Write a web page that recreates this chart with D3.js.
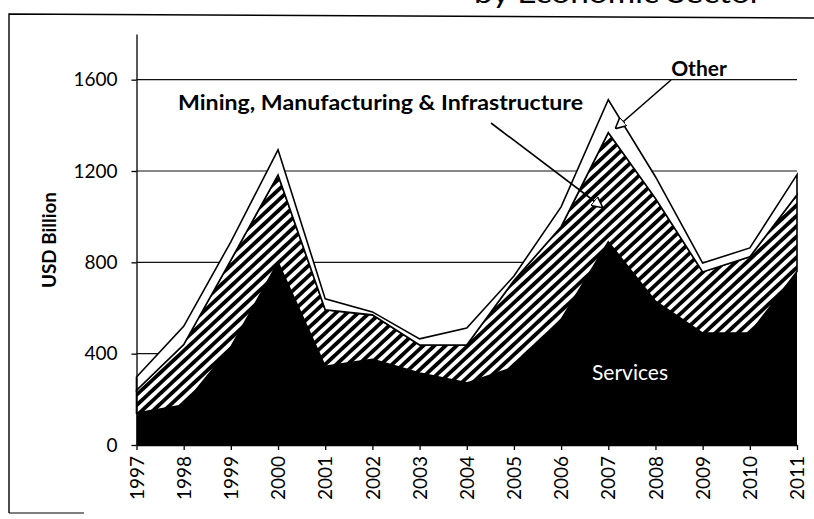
<!DOCTYPE html>
<html>
<head>
<meta charset="utf-8">
<script src="https://cdn.jsdelivr.net/npm/d3@7"></script>
<style>
  html, body { margin: 0; padding: 0; background: #fff; }
  svg { display: block; }
  text { font-family: Lato, "Open Sans", sans-serif; fill: #000; }
</style>
</head>
<body>
<svg id="chart" width="814" height="519"></svg>
<script>
// Annual values by economic sector, USD billion
const years = [1997, 1998, 1999, 2000, 2001, 2002, 2003, 2004, 2005, 2006, 2007, 2008, 2009, 2010, 2011];
const services = [140, 175, 430, 800, 345, 375, 315, 272, 340, 550, 890, 630, 490, 490, 760];
const mining = [100, 265, 380, 383, 247, 195, 123, 166, 380, 406, 478, 450, 268, 334, 336];
const other = [58, 80, 80, 110, 48, 13, 27, 74, 20, 87, 144, 95, 39, 39, 88];
const yTicks = [0, 400, 800, 1200, 1600];

const svg = d3.select("#chart");

// Diagonal stripe fill for the middle band
const defs = svg.append("defs");
const hatch = defs.append("pattern")
  .attr("id", "hatch")
  .attr("patternUnits", "userSpaceOnUse")
  .attr("width", 7.6)
  .attr("height", 10)
  .attr("patternTransform", "rotate(47)");
hatch.append("rect").attr("width", 7.6).attr("height", 10).attr("fill", "#fff");
hatch.append("rect").attr("width", 3.8).attr("height", 10).attr("fill", "#000");

// Page frame and the heading above it
svg.append("path")
  .attr("d", "M9,513 L9,14 L814,18")
  .attr("fill", "none").attr("stroke", "#000").attr("stroke-width", 1.4);
svg.append("path")
  .attr("d", "M9,513 L84,513")
  .attr("fill", "none").attr("stroke", "#000").attr("stroke-width", 1.2);
svg.append("text")
  .attr("x", 474).attr("y", 3)
  .attr("textLength", 288).attr("lengthAdjust", "spacingAndGlyphs")
  .style("font-size", "26px")
  .text("by Economic Sector");

const x = d3.scaleLinear().domain([1997, 2011]).range([136.5, 797]);
const y = d3.scaleLinear().domain([0, 1800]).range([445, 34]);

// Horizontal gridlines
svg.append("g")
  .selectAll("line")
  .data(yTicks.filter(d => d > 0))
  .join("line")
  .attr("x1", x(1997)).attr("x2", x(2011))
  .attr("y1", d => y(d)).attr("y2", d => y(d))
  .attr("stroke", "#111").attr("stroke-width", 1.1);

// Stacked series
const table = years.map((yr, i) => ({ year: yr, services: services[i], mining: mining[i], other: other[i] }));
const stack = d3.stack().keys(["services", "mining", "other"]);
const layers = stack(table);

const area = d3.area()
  .x(d => x(d.data.year))
  .y0(d => y(d[0]))
  .y1(d => y(d[1]));

const fills = { services: "#000", mining: "url(#hatch)", other: "#fff" };

svg.append("g")
  .selectAll("path")
  .data(layers)
  .join("path")
  .attr("d", area)
  .attr("fill", d => fills[d.key])
  .attr("stroke", "#000")
  .attr("stroke-width", d => d.key === "services" ? 0 : 1.6)
  .attr("stroke-linejoin", "miter");

// Axes
const yAxis = d3.axisLeft(y).tickValues(yTicks).tickFormat(d3.format("d"))
  .tickSize(5).tickSizeOuter(0).tickPadding(14);
const gy = svg.append("g").attr("transform", `translate(${x(1997)},0)`).call(yAxis);
gy.selectAll("text").style("font-size", "19px");

const xAxis = d3.axisBottom(x).tickValues(years).tickFormat(d3.format("d")).tickSize(5).tickSizeOuter(0);
const gx = svg.append("g").attr("transform", `translate(0,${y(0)})`).call(xAxis);
gx.selectAll("text")
  .style("font-size", "19px")
  .attr("text-anchor", "end")
  .attr("transform", "rotate(-90)")
  .attr("x", -11)
  .attr("y", 0)
  .attr("dy", "0.35em");

[gx, gy].forEach(g => {
  g.selectAll("path, line").attr("stroke", "#000").attr("stroke-width", 1.3);
});

// Axis title
svg.append("text")
  .attr("transform", "translate(56,240) rotate(-90)")
  .attr("text-anchor", "middle")
  .attr("textLength", 96).attr("lengthAdjust", "spacingAndGlyphs")
  .style("font-size", "18px")
  .style("font-weight", "bold")
  .text("USD Billion");

// Series labels and pointers
const marker = defs.append("marker")
  .attr("id", "arrow")
  .attr("viewBox", "0 0 10 10")
  .attr("refX", 9).attr("refY", 5)
  .attr("markerWidth", 7).attr("markerHeight", 7)
  .attr("markerUnits", "strokeWidth")
  .attr("orient", "auto");
marker.append("path")
  .attr("d", "M0,0 L10,5 L0,10 Z")
  .attr("fill", "#fff").attr("stroke", "#000").attr("stroke-width", 1.4);

svg.append("text")
  .attr("x", 178).attr("y", 110)
  .attr("textLength", 405).attr("lengthAdjust", "spacingAndGlyphs")
  .style("font-size", "21px").style("font-weight", "bold")
  .text("Mining, Manufacturing & Infrastructure");

svg.append("text")
  .attr("x", 699).attr("y", 76)
  .attr("text-anchor", "middle")
  .style("font-size", "21px").style("font-weight", "bold")
  .text("Other");

svg.append("line")
  .attr("x1", 491).attr("y1", 123).attr("x2", 602).attr("y2", 207)
  .attr("stroke", "#000").attr("stroke-width", 1.6)
  .attr("marker-end", "url(#arrow)");

svg.append("line")
  .attr("x1", 671).attr("y1", 80).attr("x2", 616).attr("y2", 128)
  .attr("stroke", "#000").attr("stroke-width", 1.6)
  .attr("marker-end", "url(#arrow)");

svg.append("text")
  .attr("x", 630).attr("y", 380)
  .attr("text-anchor", "middle")
  .style("font-size", "21px")
  .style("fill", "#fff")
  .text("Services");
</script>
</body>
</html>
